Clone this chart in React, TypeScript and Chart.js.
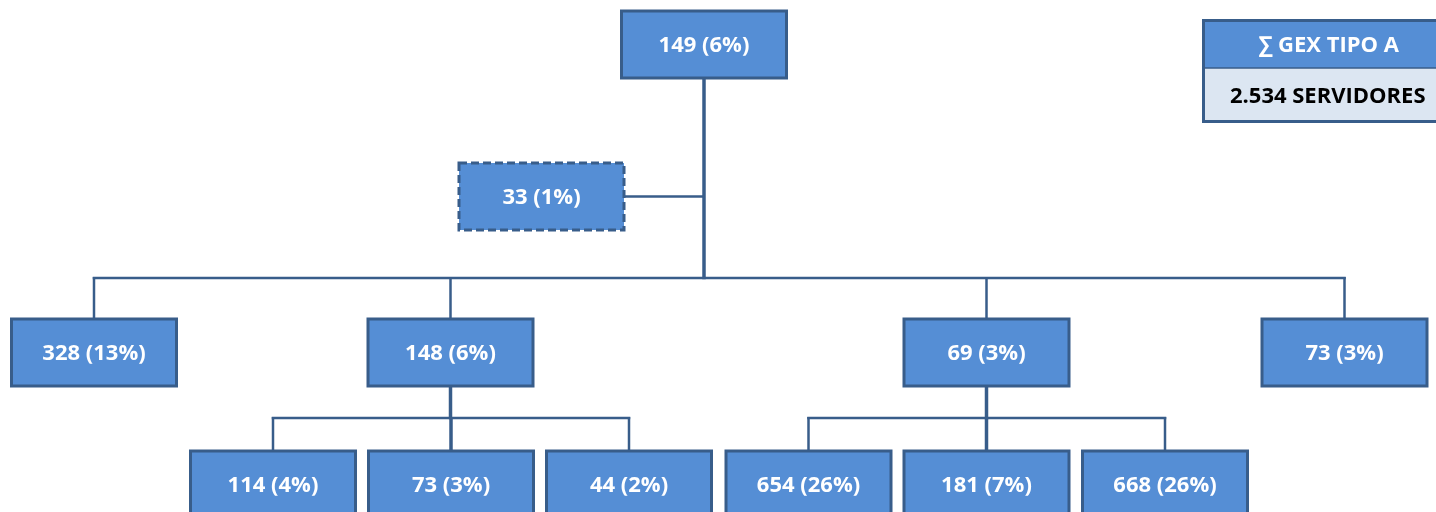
import React, { useEffect, useRef } from "react";
import { Chart, registerables } from "chart.js";

Chart.register(...registerables);

// ---- data ----
const nodeValues = [149, 33, 328, 148, 69, 73, 114, 73, 44, 654, 181, 668];
const nodeParents = [-1, 0, 0, 0, 0, 0, 3, 3, 3, 4, 4, 4];
const nodeAssistant = [false, true, false, false, false, false, false, false, false, false, false, false];
const legendTitle = "∑ GEX TIPO A";
const legendUnit = "SERVIDORES";

// ---- layout (positions, in chart units) ----
const layoutX = [704, 541.5, 94, 450.5, 986.5, 1344.5, 273, 451, 629, 808.5, 986.5, 1165];
const layoutY = [44.5, 196.5, 352.5, 352.5, 352.5, 352.5, 484.5, 484.5, 484.5, 484.5, 484.5, 484.5];
const busYByParent: Record<number, number> = { 0: 278, 3: 418, 4: 418 };
const BOX_W = 165;
const BOX_H = 67;

const FILL = "#558ED5";
const BORDER = "#385D8A";
const LINE = "#385D8A";
const FONT = '"Open Sans", "Noto Sans", sans-serif';

const total = nodeValues.reduce((a, b) => a + b, 0);
const fmtThousands = (n: number) => String(n).replace(/\B(?=(\d{3})+(?!\d))/g, ".");
const nodeLabels = nodeValues.map((v) => `${v} (${Math.round((v / total) * 100)}%)`);

const orgPlugin = {
  id: "orgchart",
  afterDatasetsDraw(chart: any) {
    const ctx: CanvasRenderingContext2D = chart.ctx;
    const xs = chart.scales.x;
    const ys = chart.scales.y;
    const meta = chart.getDatasetMeta(0);
    const pts = meta.data.map((el: any) => ({ x: el.x, y: el.y }));
    const halfW = (i: number) => (xs.getPixelForValue(layoutX[i] + BOX_W / 2) - xs.getPixelForValue(layoutX[i] - BOX_W / 2)) / 2;
    const halfH = (i: number) => Math.abs(ys.getPixelForValue(layoutY[i] + BOX_H / 2) - ys.getPixelForValue(layoutY[i] - BOX_H / 2)) / 2;

    ctx.save();
    ctx.strokeStyle = LINE;
    ctx.lineCap = "butt";
    const line = (x1: number, y1: number, x2: number, y2: number, w: number) => {
      ctx.lineWidth = w;
      ctx.beginPath();
      ctx.moveTo(x1, y1);
      ctx.lineTo(x2, y2);
      ctx.stroke();
    };

    // connectors
    const parents = Array.from(new Set(nodeParents.filter((p) => p >= 0)));
    parents.forEach((p) => {
      const kids = nodeParents.map((pp, i) => (pp === p ? i : -1)).filter((i) => i >= 0);
      const normal = kids.filter((k) => !nodeAssistant[k]);
      const assist = kids.filter((k) => nodeAssistant[k]);
      const px = pts[p].x;
      const pBottom = pts[p].y + halfH(p);
      const by = ys.getPixelForValue(busYByParent[p]);
      assist.forEach((a) => {
        line(pts[a].x + halfW(a), pts[a].y, px, pts[a].y, 2.5);
      });
      if (normal.length) {
        const minX = Math.min(...normal.map((k) => pts[k].x));
        const maxX = Math.max(...normal.map((k) => pts[k].x));
        line(minX - 1.25, by, maxX + 1.25, by, 2.5);
        normal.forEach((k) => {
          const top = pts[k].y - halfH(k);
          const straight = Math.abs(pts[k].x - px) < 3;
          line(pts[k].x, by - 1, pts[k].x, top, straight ? 3.5 : 2.5);
        });
        line(px, pBottom, px, by + 1.25, 3.5);
      }
    });

    // boxes
    nodeLabels.forEach((label, i) => {
      const hw = halfW(i);
      const hh = halfH(i);
      const x0 = pts[i].x - hw;
      const y0 = pts[i].y - hh;
      ctx.fillStyle = FILL;
      ctx.fillRect(x0, y0, hw * 2, hh * 2);
      ctx.lineWidth = 3;
      ctx.strokeStyle = BORDER;
      ctx.setLineDash(nodeAssistant[i] ? [8, 4] : []);
      ctx.strokeRect(x0, y0, hw * 2, hh * 2);
      ctx.setLineDash([]);
      ctx.fillStyle = "#FFFFFF";
      ctx.font = `bold 22px ${FONT}`;
      ctx.textAlign = "center";
      ctx.textBaseline = "middle";
      ctx.fillText(label, pts[i].x, pts[i].y + 1.5);
    });

    // legend box
    const lx0 = xs.getPixelForValue(1203.5);
    const lx1 = xs.getPixelForValue(1452);
    const ly0 = ys.getPixelForValue(20.5);
    const lyMid = ys.getPixelForValue(68);
    const ly1 = ys.getPixelForValue(121.5);
    ctx.fillStyle = FILL;
    ctx.fillRect(lx0, ly0, lx1 - lx0, lyMid - ly0);
    ctx.fillStyle = "#DCE6F2";
    ctx.fillRect(lx0, lyMid, lx1 - lx0, ly1 - lyMid);
    ctx.strokeStyle = BORDER;
    ctx.lineWidth = 3;
    ctx.strokeRect(lx0, ly0, lx1 - lx0, ly1 - ly0);
    line(lx0, lyMid, lx1, lyMid, 1.5);
    ctx.font = `bold 22px ${FONT}`;
    ctx.textAlign = "center";
    ctx.textBaseline = "middle";
    ctx.fillStyle = "#FFFFFF";
    ctx.fillText(legendTitle, (lx0 + lx1) / 2 + 1, (ly0 + lyMid) / 2 + 1.5);
    ctx.fillStyle = "#000000";
    ctx.fillText(`${fmtThousands(total)} ${legendUnit}`, (lx0 + lx1) / 2, (lyMid + ly1) / 2 + 1.5);
    ctx.restore();
  },
};

export default function App() {
  const ref = useRef<HTMLCanvasElement | null>(null);
  useEffect(() => {
    if (!ref.current) return;
    const chart = new Chart(ref.current, {
      type: "scatter",
      data: {
        datasets: [
          {
            data: nodeValues.map((_, i) => ({ x: layoutX[i], y: layoutY[i] })),
            pointRadius: 0,
            pointHoverRadius: 0,
          },
        ],
      },
      options: {
        animation: false,
        responsive: false,
        events: [],
        layout: { padding: 0 },
        plugins: { legend: { display: false }, tooltip: { enabled: false } },
        scales: {
          x: { type: "linear", min: 0, max: 1436, display: false },
          y: { type: "linear", min: 0, max: 512, reverse: true, display: false },
        },
      },
      plugins: [orgPlugin],
    });
    return () => chart.destroy();
  }, []);
  return (
    <div style={{ position: "fixed", left: 0, top: 0, width: 1436, height: 512, background: "#fff" }}>
      <canvas ref={ref} width={1436} height={512} />
    </div>
  );
}
